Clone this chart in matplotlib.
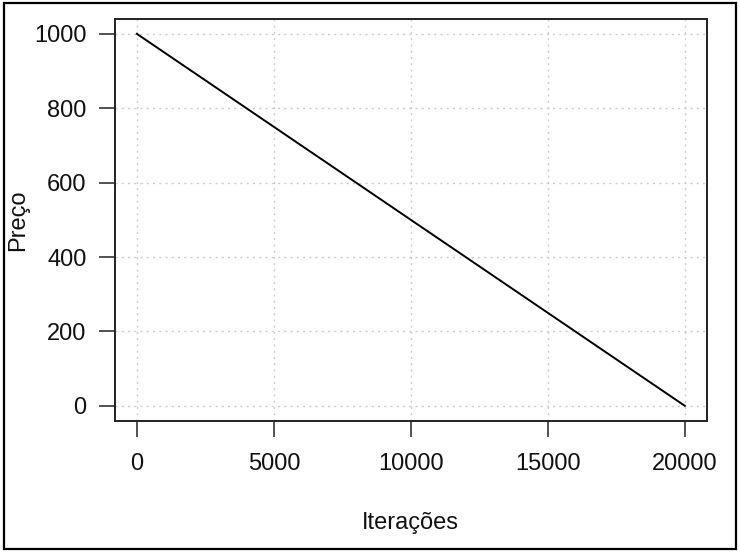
import matplotlib
matplotlib.use("Agg")
import matplotlib.pyplot as plt
from matplotlib.patches import Rectangle

# dados
iteracoes = [0, 20000]
preco = [1000, 0]
x_ticks = [0, 5000, 10000, 15000, 20000]
y_ticks = [0, 200, 400, 600, 800, 1000]

plt.rcParams['font.family'] = ['Liberation Sans', 'DejaVu Sans']

fig = plt.figure(figsize=(7.39, 5.52), dpi=100)
ax = fig.add_axes([0.1556, 0.2379, 0.8007, 0.7277])

ax.plot(iteracoes, preco, color='black', linewidth=1.4)

ax.set_xlim(-800, 20800)
ax.set_ylim(-40, 1040)
ax.set_xticks(x_ticks)
ax.set_yticks(y_ticks)
ax.grid(True, color='#cccccc', linestyle=(0, (1.5, 3)), linewidth=1)
ax.set_axisbelow(True)

ax.tick_params(direction='out', length=11.5, width=1.2, color='#333333',
               labelsize=17, labelcolor='#111111')
ax.tick_params(axis='x', pad=12)
ax.tick_params(axis='y', pad=9)
for s in ax.spines.values():
    s.set_linewidth(1.4)
    s.set_color('#222222')

ax.set_xlabel('Iterações', fontsize=17, color='#111111')
ax.set_ylabel('Preço', fontsize=17, color='#111111')
ax.xaxis.set_label_coords(0.5, -0.2547)
ax.yaxis.set_label_coords(-0.164, 0.5)
ax.xaxis.label.set_va('center')
ax.yaxis.label.set_va('center')

# moldura em volta da figura
fig.patches.append(Rectangle((4 / 739, 3 / 552), 732 / 739, 546 / 552,
                             transform=fig.transFigure, fill=False,
                             edgecolor='black', linewidth=1.6))

fig.savefig('out.png', dpi=100)
plt.close(fig)
